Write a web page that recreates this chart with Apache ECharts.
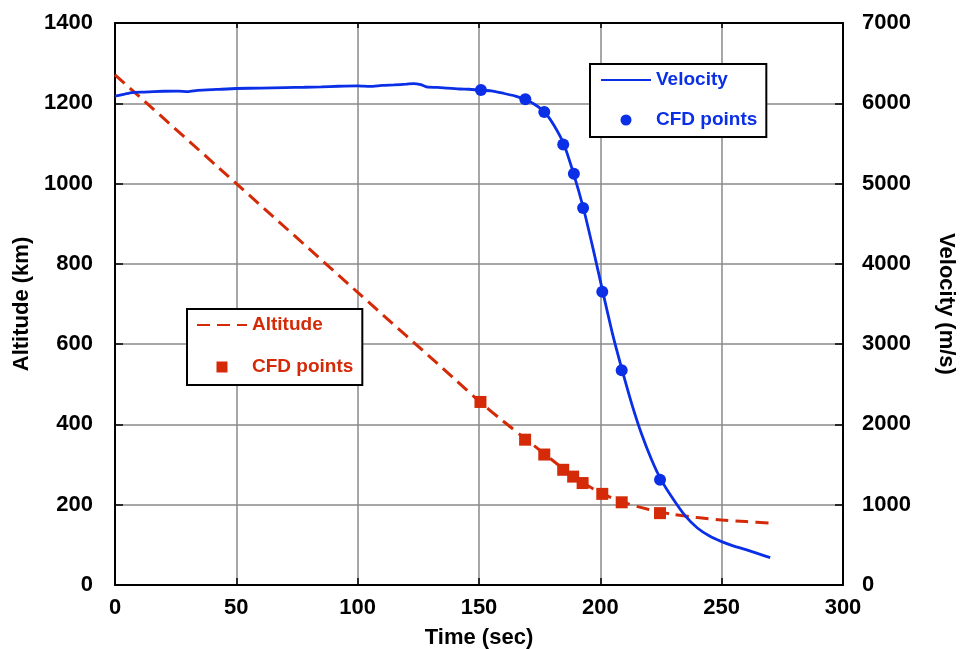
<!DOCTYPE html>
<html>
<head>
<meta charset="utf-8">
<script src="https://cdn.jsdelivr.net/npm/echarts@6/dist/echarts.min.js"></script>
<style>html,body{margin:0;padding:0;background:#fff}#c{width:963px;height:649px}</style>
</head>
<body>
<div id="c"></div>
<script>
// Time ticks
const timeTicks = [0, 50, 100, 150, 200, 250, 300];
// Velocity trace (time s, velocity m/s)
const velTime = [0,4,7,12,20,26,30,34,42,50,60,70,78,85,92,100,105,110,115,120,123,126,129,133,137,142,146,150,155,160,165,169,173,177,181,185,189,193,197,201,205,209,213,217,221,225,230,235,240,245,250,255,260,265,270];
const velValue = [6090,6115,6134,6140,6150,6152,6145,6160,6172,6184,6190,6196,6200,6205,6212,6216,6210,6222,6229,6238,6246,6232,6200,6198,6188,6178,6175,6165,6155,6125,6090,6050,5985,5891,5720,5487,5121,4696,4190,3654,3130,2675,2250,1880,1570,1312,1070,860,710,610,540,485,440,390,341];
// Velocity CFD points
const velCfdTime = [150.8,169.1,176.9,184.7,189.1,192.9,200.8,208.8,224.6];
const velCfdValue = [6166,6050,5891,5487,5121,4696,3654,2675,1312];
// Altitude trace (time s, altitude km)
const altTime = [0,50,100,140,150,160,170,180,190,200,210,220,230,240,250,260,270];
const altValue = [1271,1000,729,513,458,408,360,312,266,230,205,188,176,168,162,158,154];
// Altitude CFD points
const altCfdTime = [150.6,169,176.9,184.7,188.8,192.7,200.8,208.8,224.6];
const altCfdValue = [456,362,325,287,270,254,227,206,179];

const BLUE = '#0a2fe6', RED = '#d42a08';
const FONT = '"Liberation Sans", Arial, sans-serif';
const zip = (a, b) => a.map((v, i) => [v, b[i]]);
const SQUARE = 'path://M0,0H10V10H0Z';

const chart = echarts.init(document.getElementById('c'));
const labelStyle = {color: '#000', fontFamily: FONT, fontWeight: 'bold', fontSize: 22, formatter: v => String(v)};
const nameStyle = {color: '#000', fontFamily: FONT, fontWeight: 'bold', fontSize: 22};
const hideSym = {color: 'rgba(0,0,0,0)', borderWidth: 0, opacity: 0};
chart.setOption({
  animation: false,
  backgroundColor: '#fff',
  grid: {left: 115, right: 120, top: 23, bottom: 64, containLabel: false, outerBoundsMode: 'none'},
  xAxis: [{
    type: 'value', min: 0, max: 300, interval: 50, position: 'bottom',
    name: 'Time (sec)', nameLocation: 'middle', nameGap: 42, nameTextStyle: nameStyle,
    axisLine: {show: true, onZero: false, lineStyle: {color: '#000', width: 2}},
    axisTick: {show: true, inside: true, length: 7, lineStyle: {color: '#000', width: 1.5}},
    axisLabel: Object.assign({}, labelStyle, {margin: 12, formatter: v => timeTicks.includes(v) ? String(v) : ''}),
    splitLine: {show: true, lineStyle: {color: '#8a8a8a', width: 1.5}}
  }, {
    type: 'value', min: 0, max: 300, interval: 50, position: 'top',
    axisLine: {show: true, onZero: false, lineStyle: {color: '#000', width: 2}},
    axisTick: {show: true, inside: true, length: 5, lineStyle: {color: '#000', width: 1.5}},
    axisLabel: {show: false}, splitLine: {show: false}
  }],
  yAxis: [{
    type: 'value', min: 0, max: 1400, interval: 200, position: 'left',
    name: 'Altitude (km)', nameLocation: 'middle', nameGap: 70, nameRotate: 90, nameTextStyle: nameStyle,
    axisLine: {show: true, onZero: false, lineStyle: {color: '#000', width: 2}},
    axisTick: {show: true, inside: true, length: 8, lineStyle: {color: '#000', width: 1.5}},
    axisLabel: Object.assign({}, labelStyle, {margin: 22}),
    splitLine: {show: true, lineStyle: {color: '#8a8a8a', width: 1.5}}
  }, {
    type: 'value', min: 0, max: 7000, interval: 1000, position: 'right',
    name: 'Velocity (m/s)', nameLocation: 'middle', nameGap: 92, nameRotate: -90, nameTextStyle: nameStyle,
    axisLine: {show: true, onZero: false, lineStyle: {color: '#000', width: 2}},
    axisTick: {show: true, inside: true, length: 8, lineStyle: {color: '#000', width: 1.5}},
    axisLabel: Object.assign({}, labelStyle, {margin: 19}),
    splitLine: {show: false}
  }],
  legend: [{
    data: [{name: 'Velocity', itemStyle: hideSym}, {name: 'Velocity CFD', icon: 'circle'}],
    formatter: n => n === 'Velocity CFD' ? 'CFD points' : n,
    orient: 'vertical', left: 590, top: 64, symbolKeepAspect: true,
    padding: [6, 9, 7, 10], itemGap: 20, itemWidth: 50, itemHeight: 11,
    borderColor: '#000', borderWidth: 2, backgroundColor: '#fff',
    textStyle: {color: BLUE, fontFamily: FONT, fontWeight: 'bold', fontSize: 19, lineHeight: 20},
    selectedMode: false
  }, {
    data: [{name: 'Altitude', itemStyle: hideSym}, {name: 'Altitude CFD', icon: SQUARE}],
    formatter: n => n === 'Altitude CFD' ? 'CFD points' : n,
    orient: 'vertical', left: 187, top: 309, symbolKeepAspect: true,
    padding: [6, 9, 8, 9], itemGap: 22, itemWidth: 50, itemHeight: 11,
    borderColor: '#000', borderWidth: 2, backgroundColor: '#fff',
    textStyle: {color: RED, fontFamily: FONT, fontWeight: 'bold', fontSize: 19, lineHeight: 20},
    selectedMode: false
  }],
  series: [{
    name: 'Altitude', type: 'line', xAxisIndex: 0, yAxisIndex: 0,
    data: zip(altTime, altValue), smooth: 0.3, symbol: 'none',
    lineStyle: {color: RED, width: 3, type: [13, 7]}, itemStyle: {color: RED}, z: 3
  }, {
    name: 'Velocity', type: 'line', xAxisIndex: 0, yAxisIndex: 1,
    data: zip(velTime, velValue), smooth: 0.2, symbol: 'none',
    lineStyle: {color: BLUE, width: 2.8}, itemStyle: {color: BLUE}, z: 3
  }, {
    name: 'Altitude CFD', type: 'scatter', xAxisIndex: 0, yAxisIndex: 0,
    data: zip(altCfdTime, altCfdValue), symbol: 'rect', symbolSize: 12, symbolKeepAspect: true,
    itemStyle: {color: RED, opacity: 1}, z: 4
  }, {
    name: 'Velocity CFD', type: 'scatter', xAxisIndex: 0, yAxisIndex: 1,
    data: zip(velCfdTime, velCfdValue), symbol: 'circle', symbolSize: 12,
    itemStyle: {color: BLUE, opacity: 1}, z: 4
  }]
});
</script>
</body>
</html>
